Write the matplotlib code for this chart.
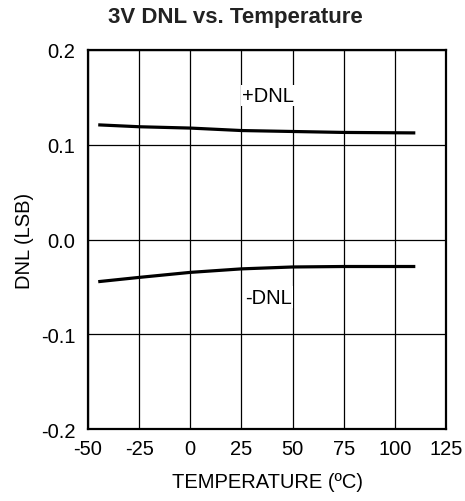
import matplotlib
matplotlib.use("Agg")
from matplotlib import pyplot as plt

plt.rcParams['font.family'] = ['Liberation Sans', 'DejaVu Sans']
plt.rcParams['axes.unicode_minus'] = False

temps = [-45, -25, 0, 25, 50, 75, 110]
dnl_pos = [0.121, 0.119, 0.1176, 0.115, 0.114, 0.113, 0.1125]
dnl_neg = [-0.0445, -0.040, -0.0347, -0.031, -0.029, -0.0285, -0.0285]

xticks = [-50, -25, 0, 25, 50, 75, 100, 125]
yticks = [-0.2, -0.1, 0.0, 0.1, 0.2]

fig = plt.figure(figsize=(4.65, 5.02), dpi=100)
ax = fig.add_axes([88 / 465, 1 - 430 / 502, 358 / 465, 379 / 502])

ax.plot(temps, dnl_pos, color="black", lw=2.3, solid_capstyle="butt")
ax.plot(temps, dnl_neg, color="black", lw=2.3, solid_capstyle="butt")

ax.set_xlim(-50, 125)
ax.set_ylim(-0.2, 0.2)
ax.set_xticks(xticks)
ax.set_yticks(yticks)
ax.set_yticklabels(["-0.2", "-0.1", "0.0", "0.1", "0.2"])
ax.tick_params(length=0, labelsize=14.5)
ax.tick_params(axis="x", pad=7)
ax.tick_params(axis="y", pad=9)
ax.grid(color="black", lw=0.9)
for s in ax.spines.values():
    s.set_linewidth(1.6)

ax.text(38, 0.152, "+DNL", fontsize=14.5, ha="center", va="center",
        bbox=dict(facecolor="white", edgecolor="none", pad=1))
ax.text(38, -0.061, "-DNL", fontsize=14.5, ha="center", va="center",
        bbox=dict(facecolor="white", edgecolor="none", pad=1))

ax.set_xlabel("TEMPERATURE (ºC)", fontsize=14.5, labelpad=10)
ax.set_ylabel("DNL (LSB)", fontsize=14.5, labelpad=5)
fig.text(235 / 465, 1 - 17 / 502, "3V DNL vs. Temperature", fontsize=16,
         fontweight="bold", ha="center", va="center", color="#222222")

fig.savefig("out.png", dpi=100)
